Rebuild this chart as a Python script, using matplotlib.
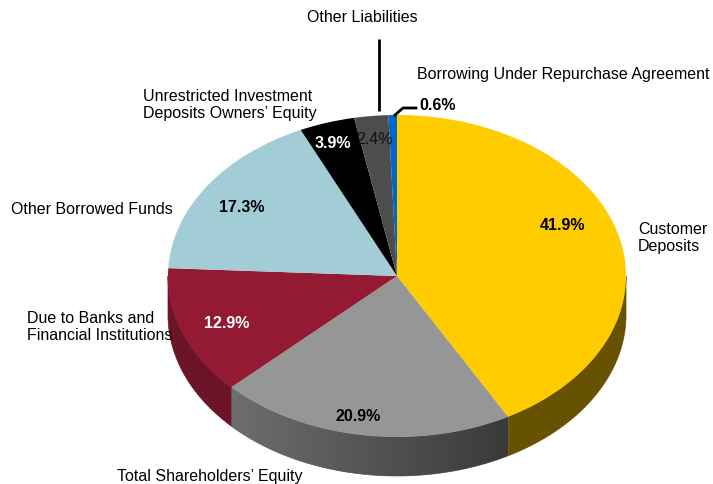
import numpy as np
import matplotlib
matplotlib.use("Agg")
import matplotlib.pyplot as plt
from matplotlib.transforms import Affine2D
from matplotlib.colors import to_rgb
from matplotlib.patches import Polygon

# ---- data ----
categories = ["Customer Deposits", "Total Shareholders' Equity",
              "Due to Banks and Financial Institutions", "Other Borrowed Funds",
              "Unrestricted Investment Deposits Owners' Equity",
              "Other Liabilities", "Borrowing Under Repurchase Agreement"]
values = [41.9, 20.9, 12.9, 17.3, 3.9, 2.4, 0.6]
pct_labels = ["41.9%", "20.9%", "12.9%", "17.3%", "3.9%", "2.4%", "0.6%"]

# ---- style ----
top_colors = ["#FFCC00", "#969696", "#931A32", "#A3CDD6", "#000000", "#4D4D4D", "#0066CC"]
side_colors = [("#665200", "#665200"), ("#6E6E6E", "#3A3A3A"), ("#6E1428", "#6E1428"),
               ("#6F8F96", "#6F8F96"), ("#000000", "#000000"), ("#333333", "#333333"),
               ("#004C99", "#004C99")]

W, H = 713, 485
fig = plt.figure(figsize=(W / 100, H / 100), dpi=100)
ax = fig.add_axes([0, 0, 1, 1])

cx, cy = 397, H - 277
rx, ry = 229, 161
depth = 39

wedges, _ = ax.pie(values, colors=top_colors, startangle=90, counterclock=False,
                   radius=1, center=(0, 0), wedgeprops=dict(linewidth=0, antialiased=True))
ax.set_xlim(0, W)
ax.set_ylim(0, H)
ax.set_aspect("auto")
ax.axis("off")

ell = Affine2D().scale(rx, ry).translate(cx, cy) + ax.transData
for w in wedges:
    w.set_transform(ell)
    w.set_zorder(5)


def lower_intervals(t1, t2):
    out = []
    for k in range(-2, 3):
        a, b = 180 + 360 * k, 360 + 360 * k
        lo, hi = max(t1, a), min(t2, b)
        if hi > lo:
            out.append((lo, hi))
    return out


# sides
for w, (c_left, c_right) in zip(wedges, side_colors):
    for lo, hi in lower_intervals(w.theta1, w.theta2):
        th = np.radians(np.linspace(lo, hi, 200))
        xs = cx + rx * np.cos(th)
        ys = cy + ry * np.sin(th)
        px = np.concatenate([xs, xs[::-1]])
        py = np.concatenate([ys, ys[::-1] - depth])
        poly = Polygon(np.column_stack([px, py]), closed=True, lw=0.5,
                       fc=c_left, ec=c_left, zorder=2)
        ax.add_patch(poly)
        if c_left != c_right:
            x0, x1 = px.min(), px.max()
            y0, y1 = py.min(), py.max()
            cl, cr = np.array(to_rgb(c_left)), np.array(to_rgb(c_right))
            f = np.linspace(0, 1, 256)[None, :, None]
            img = cl[None, None, :] * (1 - f) + cr[None, None, :] * f
            img = np.repeat(img, 2, axis=0)
            im = ax.imshow(img, extent=(x0, x1, y0, y1), origin="lower",
                           aspect="auto", zorder=3, interpolation="bilinear")
            im.set_clip_path(poly)
ax.set_xlim(0, W)
ax.set_ylim(0, H)

font = "Liberation Sans"
fs = 11.5

def Y(y):
    return H - y

# category labels
ax.text(362, Y(18), "Other Liabilities", ha="center", va="center", fontsize=fs, family=font)
ax.text(417, Y(75), "Borrowing Under Repurchase Agreement", ha="left", va="center", fontsize=fs, family=font)
ax.text(143, Y(105), "Unrestricted Investment\nDeposits Owners\u2019 Equity", ha="left", va="center",
        fontsize=fs, family=font, linespacing=1.15)
ax.text(11, Y(209), "Other Borrowed Funds", ha="left", va="center", fontsize=fs, family=font)
ax.text(27, Y(327), "Due to Banks and\nFinancial Institutions", ha="left", va="center",
        fontsize=fs, family=font, linespacing=1.15)
ax.text(117, Y(477), "Total Shareholders\u2019 Equity", ha="left", va="center", fontsize=fs, family=font)
ax.text(638, Y(238), "Customer\nDeposits", ha="left", va="center", fontsize=fs, family=font,
        linespacing=1.15)

# leader lines
ax.plot([379, 379], [Y(40), Y(112)], color="black", lw=2, zorder=6, solid_capstyle="butt")
ax.plot([395, 403, 416], [Y(116), Y(109), Y(109)], color="black", lw=2, zorder=6)

# percent labels
pct_pos = [(563, 226), (358, 417), (227, 324), (242, 207), (333, 144), (375, 139), (438, 106)]
pct_col = ["black", "black", "white", "black", "white", "#111111", "black"]
pct_w = ["bold", "bold", "bold", "bold", "bold", "normal", "bold"]
for lab, (px_, py_), c, fw in zip(pct_labels, pct_pos, pct_col, pct_w):
    ax.text(px_, Y(py_), lab, ha="center", va="center", fontsize=fs, family=font,
            color=c, fontweight=fw, zorder=7)

fig.savefig("out.png", dpi=100)
